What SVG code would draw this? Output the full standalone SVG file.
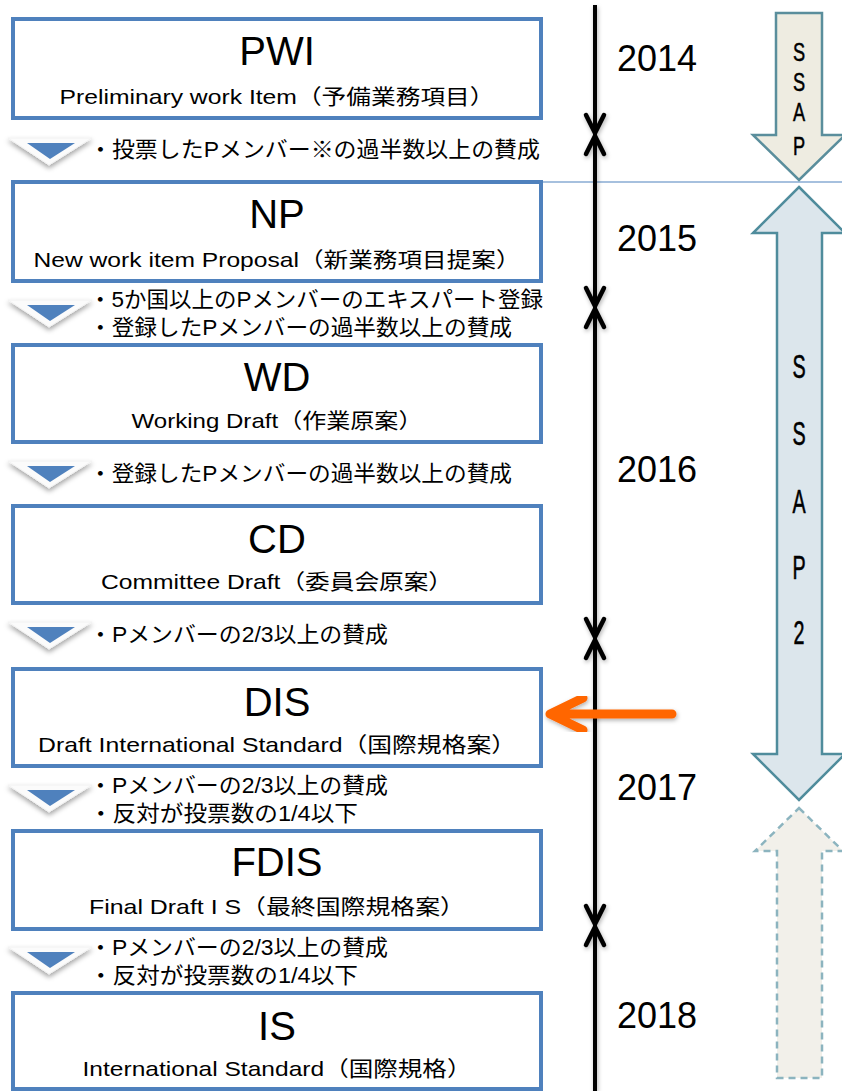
<svg xmlns="http://www.w3.org/2000/svg" width="842" height="1091" viewBox="0 0 842 1091">
<style>
.box{fill:#fff;stroke:#4F81BD;stroke-width:4}
.ttl{font-family:"Liberation Sans","Noto Sans CJK JP",sans-serif;font-size:40px;fill:#000;text-anchor:middle}
.sub{font-family:"Liberation Sans","Noto Sans CJK JP",sans-serif;font-size:21px;fill:#000;text-anchor:middle}
.cond{font-family:"Liberation Sans","Noto Sans CJK JP",sans-serif;font-size:22px;fill:#000}
.yr{font-family:"Liberation Sans",sans-serif;font-size:36px;fill:#000}
.ssap{font-family:"Liberation Sans",sans-serif;font-size:34px;fill:#000;text-anchor:middle;stroke:#000;stroke-width:0.6}
.ssap1{font-family:"Liberation Sans",sans-serif;font-size:26px;fill:#000;text-anchor:middle;stroke:#000;stroke-width:0.5}
.tl{fill:none;stroke:#000;stroke-width:4.5;stroke-linecap:round;stroke-linejoin:round}
</style>
<defs>
<filter id="sh" x="-20%" y="-20%" width="140%" height="160%">
<feDropShadow dx="0" dy="3" stdDeviation="2.5" flood-color="#000" flood-opacity="0.35"/>
</filter>
<filter id="sh2" x="-50%" y="-5%" width="200%" height="110%">
<feDropShadow dx="1" dy="2" stdDeviation="2" flood-color="#000" flood-opacity="0.3"/>
</filter>
<g id="chev">
<path d="M8,0 L92,0 L49,27 Z" fill="#fbfbfb" stroke="#f2f2f2" stroke-width="1" stroke-linejoin="round" filter="url(#sh)"/>
<path d="M27,5 L75,5 L50,21 Z" fill="#4F81BD"/>
</g>
</defs>

<!-- thin separator -->
<line x1="543" y1="182" x2="842" y2="182" stroke="#4F81BD" stroke-width="1.2"/>

<!-- SSAP arrows -->
<g id="ssap1">
<polygon points="776,13 822,13 822,135 845,135 799,180 753,135 776,135" fill="#EEECE1" stroke="#5A8E9C" stroke-width="2.5" stroke-linejoin="miter"/>
<g transform="translate(799 0) scale(0.7 1)">
<text class="ssap1" x="0" y="61">S</text>
<text class="ssap1" x="0" y="91">S</text>
<text class="ssap1" x="0" y="121">A</text>
<text class="ssap1" x="0" y="155">P</text>
</g>
</g>
<g id="ssap2">
<polygon points="799,187 845,233 822,233 822,754 845,754 799,800 753,754 777,754 777,233 753,233" fill="#DCE6EC" stroke="#4F8C9C" stroke-width="2.5"/>
<g transform="translate(799 0) scale(0.58 1)">
<text class="ssap" x="0" y="378">S</text>
<text class="ssap" x="0" y="445">S</text>
<text class="ssap" x="0" y="513">A</text>
<text class="ssap" x="0" y="579">P</text>
<text class="ssap" x="0" y="644">2</text>
</g>
</g>
<g id="future">
<polygon points="799,808 843,851 822,851 822,1078 777,1078 777,851 755,851" fill="#F2F0EA" stroke="#8CB4BF" stroke-width="2.5" stroke-dasharray="7,5"/>
</g>

<!-- timeline -->
<g id="connectors">
<g filter="url(#sh2)">
<line x1="595" y1="5" x2="595" y2="1091" stroke="#000" stroke-width="4"/>
<path class="tl" d="M586,115 L595,133 L604,115"/>
<path class="tl" d="M586,154 L595,136 L604,154"/>
<path class="tl" d="M586,288 L595,306 L604,288"/>
<path class="tl" d="M586,327 L595,309 L604,327"/>
<path class="tl" d="M586,619 L595,637 L604,619"/>
<path class="tl" d="M586,658 L595,640 L604,658"/>
<path class="tl" d="M586,906 L595,924 L604,906"/>
<path class="tl" d="M586,945 L595,927 L604,945"/>
</g>
<g filter="url(#sh2)">
<path d="M672,714 L552,714 M583,698 L550,714 L583,730" fill="none" stroke="#FF6600" stroke-width="9" stroke-linecap="round" stroke-linejoin="round"/>
</g>
<use href="#chev" transform="translate(0 138)"/>
<use href="#chev" transform="translate(0 300)"/>
<use href="#chev" transform="translate(0 461)"/>
<use href="#chev" transform="translate(0 622)"/>
<use href="#chev" transform="translate(0 785)"/>
<use href="#chev" transform="translate(0 947)"/>
</g>

<!-- years -->
<g id="years">
<text class="yr" x="617" y="71">2014</text>
<text class="yr" x="617" y="251">2015</text>
<text class="yr" x="617" y="482">2016</text>
<text class="yr" x="617" y="800">2017</text>
<text class="yr" x="617" y="1028">2018</text>
</g>

<!-- conditions -->
<g id="conditions">
<text class="cond" x="89" y="157" textLength="451" lengthAdjust="spacingAndGlyphs">・投票したPメンバー※の過半数以上の賛成</text>
<text class="cond" x="89" y="307" textLength="454" lengthAdjust="spacingAndGlyphs">・5か国以上のPメンバーのエキスパート登録</text>
<text class="cond" x="89" y="335" textLength="423" lengthAdjust="spacingAndGlyphs">・登録したPメンバーの過半数以上の賛成</text>
<text class="cond" x="89" y="481" textLength="423" lengthAdjust="spacingAndGlyphs">・登録したPメンバーの過半数以上の賛成</text>
<text class="cond" x="89" y="642" textLength="299" lengthAdjust="spacingAndGlyphs">・Pメンバーの2/3以上の賛成</text>
<text class="cond" x="89" y="793" textLength="299" lengthAdjust="spacingAndGlyphs">・Pメンバーの2/3以上の賛成</text>
<text class="cond" x="89" y="821" textLength="269" lengthAdjust="spacingAndGlyphs">・反対が投票数の1/4以下</text>
<text class="cond" x="89" y="955" textLength="299" lengthAdjust="spacingAndGlyphs">・Pメンバーの2/3以上の賛成</text>
<text class="cond" x="89" y="983" textLength="269" lengthAdjust="spacingAndGlyphs">・反対が投票数の1/4以下</text>
</g>

<!-- nodes -->
<g id="pwi">
<rect class="box" x="13" y="19" width="528" height="99"/>
<text class="ttl" x="277" y="65">PWI</text>
<text class="sub" x="277" y="104" textLength="435" lengthAdjust="spacingAndGlyphs">Preliminary work Item（予備業務項目）</text>
</g>
<g id="np">
<rect class="box" x="13" y="182" width="528" height="99"/>
<text class="ttl" x="277" y="228">NP</text>
<text class="sub" x="277" y="267" textLength="487" lengthAdjust="spacingAndGlyphs">New work item Proposal（新業務項目提案）</text>
</g>
<g id="wd">
<rect class="box" x="13" y="345" width="528" height="97"/>
<text class="ttl" x="277" y="391">WD</text>
<text class="sub" x="277" y="428" textLength="291" lengthAdjust="spacingAndGlyphs">Working Draft（作業原案）</text>
</g>
<g id="cd">
<rect class="box" x="13" y="506" width="528" height="97"/>
<text class="ttl" x="277" y="553">CD</text>
<text class="sub" x="277" y="589" textLength="352" lengthAdjust="spacingAndGlyphs">Committee Draft（委員会原案）</text>
</g>
<g id="dis">
<rect class="box" x="13" y="669" width="528" height="97"/>
<text class="ttl" x="277" y="716">DIS</text>
<text class="sub" x="277" y="752" textLength="478" lengthAdjust="spacingAndGlyphs">Draft International Standard（国際規格案）</text>
</g>
<g id="fdis">
<rect class="box" x="13" y="831" width="528" height="98"/>
<text class="ttl" x="277" y="876">FDIS</text>
<text class="sub" x="277" y="914" textLength="376" lengthAdjust="spacingAndGlyphs">Final Draft I S（最終国際規格案）</text>
</g>
<g id="is">
<rect class="box" x="13" y="993" width="528" height="96"/>
<text class="ttl" x="277" y="1040">IS</text>
<text class="sub" x="277" y="1076" textLength="389" lengthAdjust="spacingAndGlyphs">International Standard（国際規格）</text>
</g>
</svg>
